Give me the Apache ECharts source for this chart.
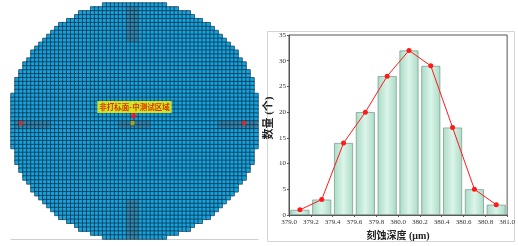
<!DOCTYPE html>
<html><head><meta charset="utf-8">
<script src="https://cdn.jsdelivr.net/npm/echarts@6/dist/echarts.min.js"></script>
<style>html,body{margin:0;padding:0;background:#fff}#c{width:518px;height:246px}</style>
</head><body><div id="c"></div>
<script>
// ---- histogram data ----
const binCenters = [379.1, 379.3, 379.5, 379.7, 379.9, 380.1, 380.3, 380.5, 380.7, 380.9];
const counts     = [1, 3, 14, 20, 27, 32, 29, 17, 5, 2];
const xTicks = [379.0, 379.2, 379.4, 379.6, 379.8, 380.0, 380.2, 380.4, 380.6, 380.8, 381.0];
const yTicks = [0, 5, 10, 15, 20, 25, 30, 35];

// ---- wafer map description ----
const waferCols = 62;
const waferRows = 60;
// test-key blocks: [colStart, colEnd, rowStart, rowEnd]
const testBlocks = [[29, 31, 1, 9], [29, 31, 50, 59], [1, 9, 30, 31], [27, 34, 30, 31], [52, 61, 30, 31]];
const redMarks = [[2, 30], [58, 30]];
const yellowMarks = [[30, 30]];
const calloutPoint = [30, 28];
const calloutText = '非打标面-中测试区域';

const cells = [];
for (let j = 0; j < waferRows; j++) {
  for (let i = 0; i < waferCols; i++) {
    const dx = (i + 0.5 - waferCols / 2) / (waferCols / 2);
    const dy = (j + 0.5 - waferRows / 2) / (waferRows / 2);
    if (dx * dx + dy * dy <= 1.03) {
      let v = 1;
      for (const b of testBlocks) if (i >= b[0] && i <= b[1] && j >= b[2] && j <= b[3]) v = 2;
      cells.push([i, j, v]);
    }
  }
}
const colCats = Array.from({length: waferCols}, (_, k) => String(k));
const rowCats = Array.from({length: waferRows}, (_, k) => String(k));

const serif = 'Liberation Serif, "Noto Sans CJK SC", serif';
const chart = echarts.init(document.getElementById('c'), null, {renderer: 'canvas'});
chart.setOption({
  animation: false,
  backgroundColor: '#fff',
  graphic: [{type: 'rect', shape: {x: 267.5, y: 31.5, width: 247, height: 210}, style: {fill: 'none', stroke: '#d4d4d4', lineWidth: 1}, z: -1}],
  grid: [
    {left: 11, right: 260, top: 3, bottom: 7},
    {left: 289, right: 7, top: 35, bottom: 29, show: true, borderColor: '#555', borderWidth: 1}
  ],
  visualMap: {type: 'piecewise', show: false, seriesIndex: 0, dimension: 2,
    pieces: [{value: 1, color: '#14a3dd'}, {value: 2, color: '#3484ab'}]},
  xAxis: [
    {type: 'category', gridIndex: 0, data: colCats, axisLabel: {show: false}, axisTick: {show: false},
      axisLine: {show: true, lineStyle: {color: '#cfcfcf'}}, splitLine: {show: false}},
    {type: 'value', gridIndex: 1, min: 379.0, max: 381.0, interval: 0.2,
      axisLine: {lineStyle: {color: '#555'}}, axisTick: {length: 2, lineStyle: {color: '#555'}},
      axisLabel: {fontFamily: serif, fontSize: 7, color: '#333', margin: 4, formatter: v => v.toFixed(1)},
      splitLine: {show: false},
      name: '刻蚀深度 (μm)', nameLocation: 'middle', nameGap: 16,
      nameTextStyle: {fontFamily: serif, fontSize: 10, fontWeight: 'bold', color: '#222'}}
  ],
  yAxis: [
    {type: 'category', gridIndex: 0, data: rowCats, inverse: true, show: false},
    {type: 'value', gridIndex: 1, min: 0, max: 35, interval: 5,
      axisLine: {show: true, lineStyle: {color: '#555'}}, axisTick: {show: true, length: 2, lineStyle: {color: '#555'}},
      axisLabel: {fontFamily: serif, fontSize: 7, color: '#333', margin: 3},
      splitLine: {show: false},
      name: '数量 (个)', nameLocation: 'middle', nameGap: 8,
      nameTextStyle: {fontFamily: serif, fontSize: 11, fontWeight: 'bold', color: '#222', padding: [0, 0, 0, 14]}}
  ],
  series: [
    {type: 'heatmap', xAxisIndex: 0, yAxisIndex: 0, data: cells,
      itemStyle: {borderColor: '#0b2c44', borderWidth: 0.7}},
    {type: 'scatter', xAxisIndex: 0, yAxisIndex: 0, data: redMarks, symbol: 'rect', symbolSize: 4,
      itemStyle: {color: '#ff1a1a'}},
    {type: 'scatter', xAxisIndex: 0, yAxisIndex: 0, data: yellowMarks, symbol: 'rect', symbolSize: 4,
      itemStyle: {color: '#c8b400'}},
    {type: 'scatter', xAxisIndex: 0, yAxisIndex: 0, data: [calloutPoint],
      symbol: 'path://M3,0 L7,0 L7,5 L10,5 L5,10 L0,5 L3,5 Z',
      symbolSize: [8, 9], symbolOffset: [1, 0], itemStyle: {color: '#ff1010'}, z: 6,
      label: {show: true, position: 'top', distance: 0, offset: [1, 2.5], formatter: calloutText,
        backgroundColor: '#ffff00', color: '#e00000', fontWeight: 'bold', fontSize: 7.5,
        fontFamily: '"Noto Sans CJK SC", sans-serif', padding: [2, 2, 1, 2], lineHeight: 9}},
    {type: 'bar', xAxisIndex: 1, yAxisIndex: 1, barWidth: 19,
      data: binCenters.map((c, k) => [c, counts[k]]),
      itemStyle: {borderColor: '#7f9f90', borderWidth: 0.8,
        color: new echarts.graphic.LinearGradient(0, 0, 1, 0, [
          {offset: 0, color: '#a9dcc5'}, {offset: 0.5, color: '#dcf4ea'}, {offset: 1, color: '#a9dcc5'}])}},
    {type: 'line', xAxisIndex: 1, yAxisIndex: 1, data: binCenters.map((c, k) => [c, counts[k]]),
      symbol: 'circle', symbolSize: 5, lineStyle: {color: '#ff1a1a', width: 1}, itemStyle: {color: '#ff1a1a'}, z: 5}
  ]
});
</script></body></html>
